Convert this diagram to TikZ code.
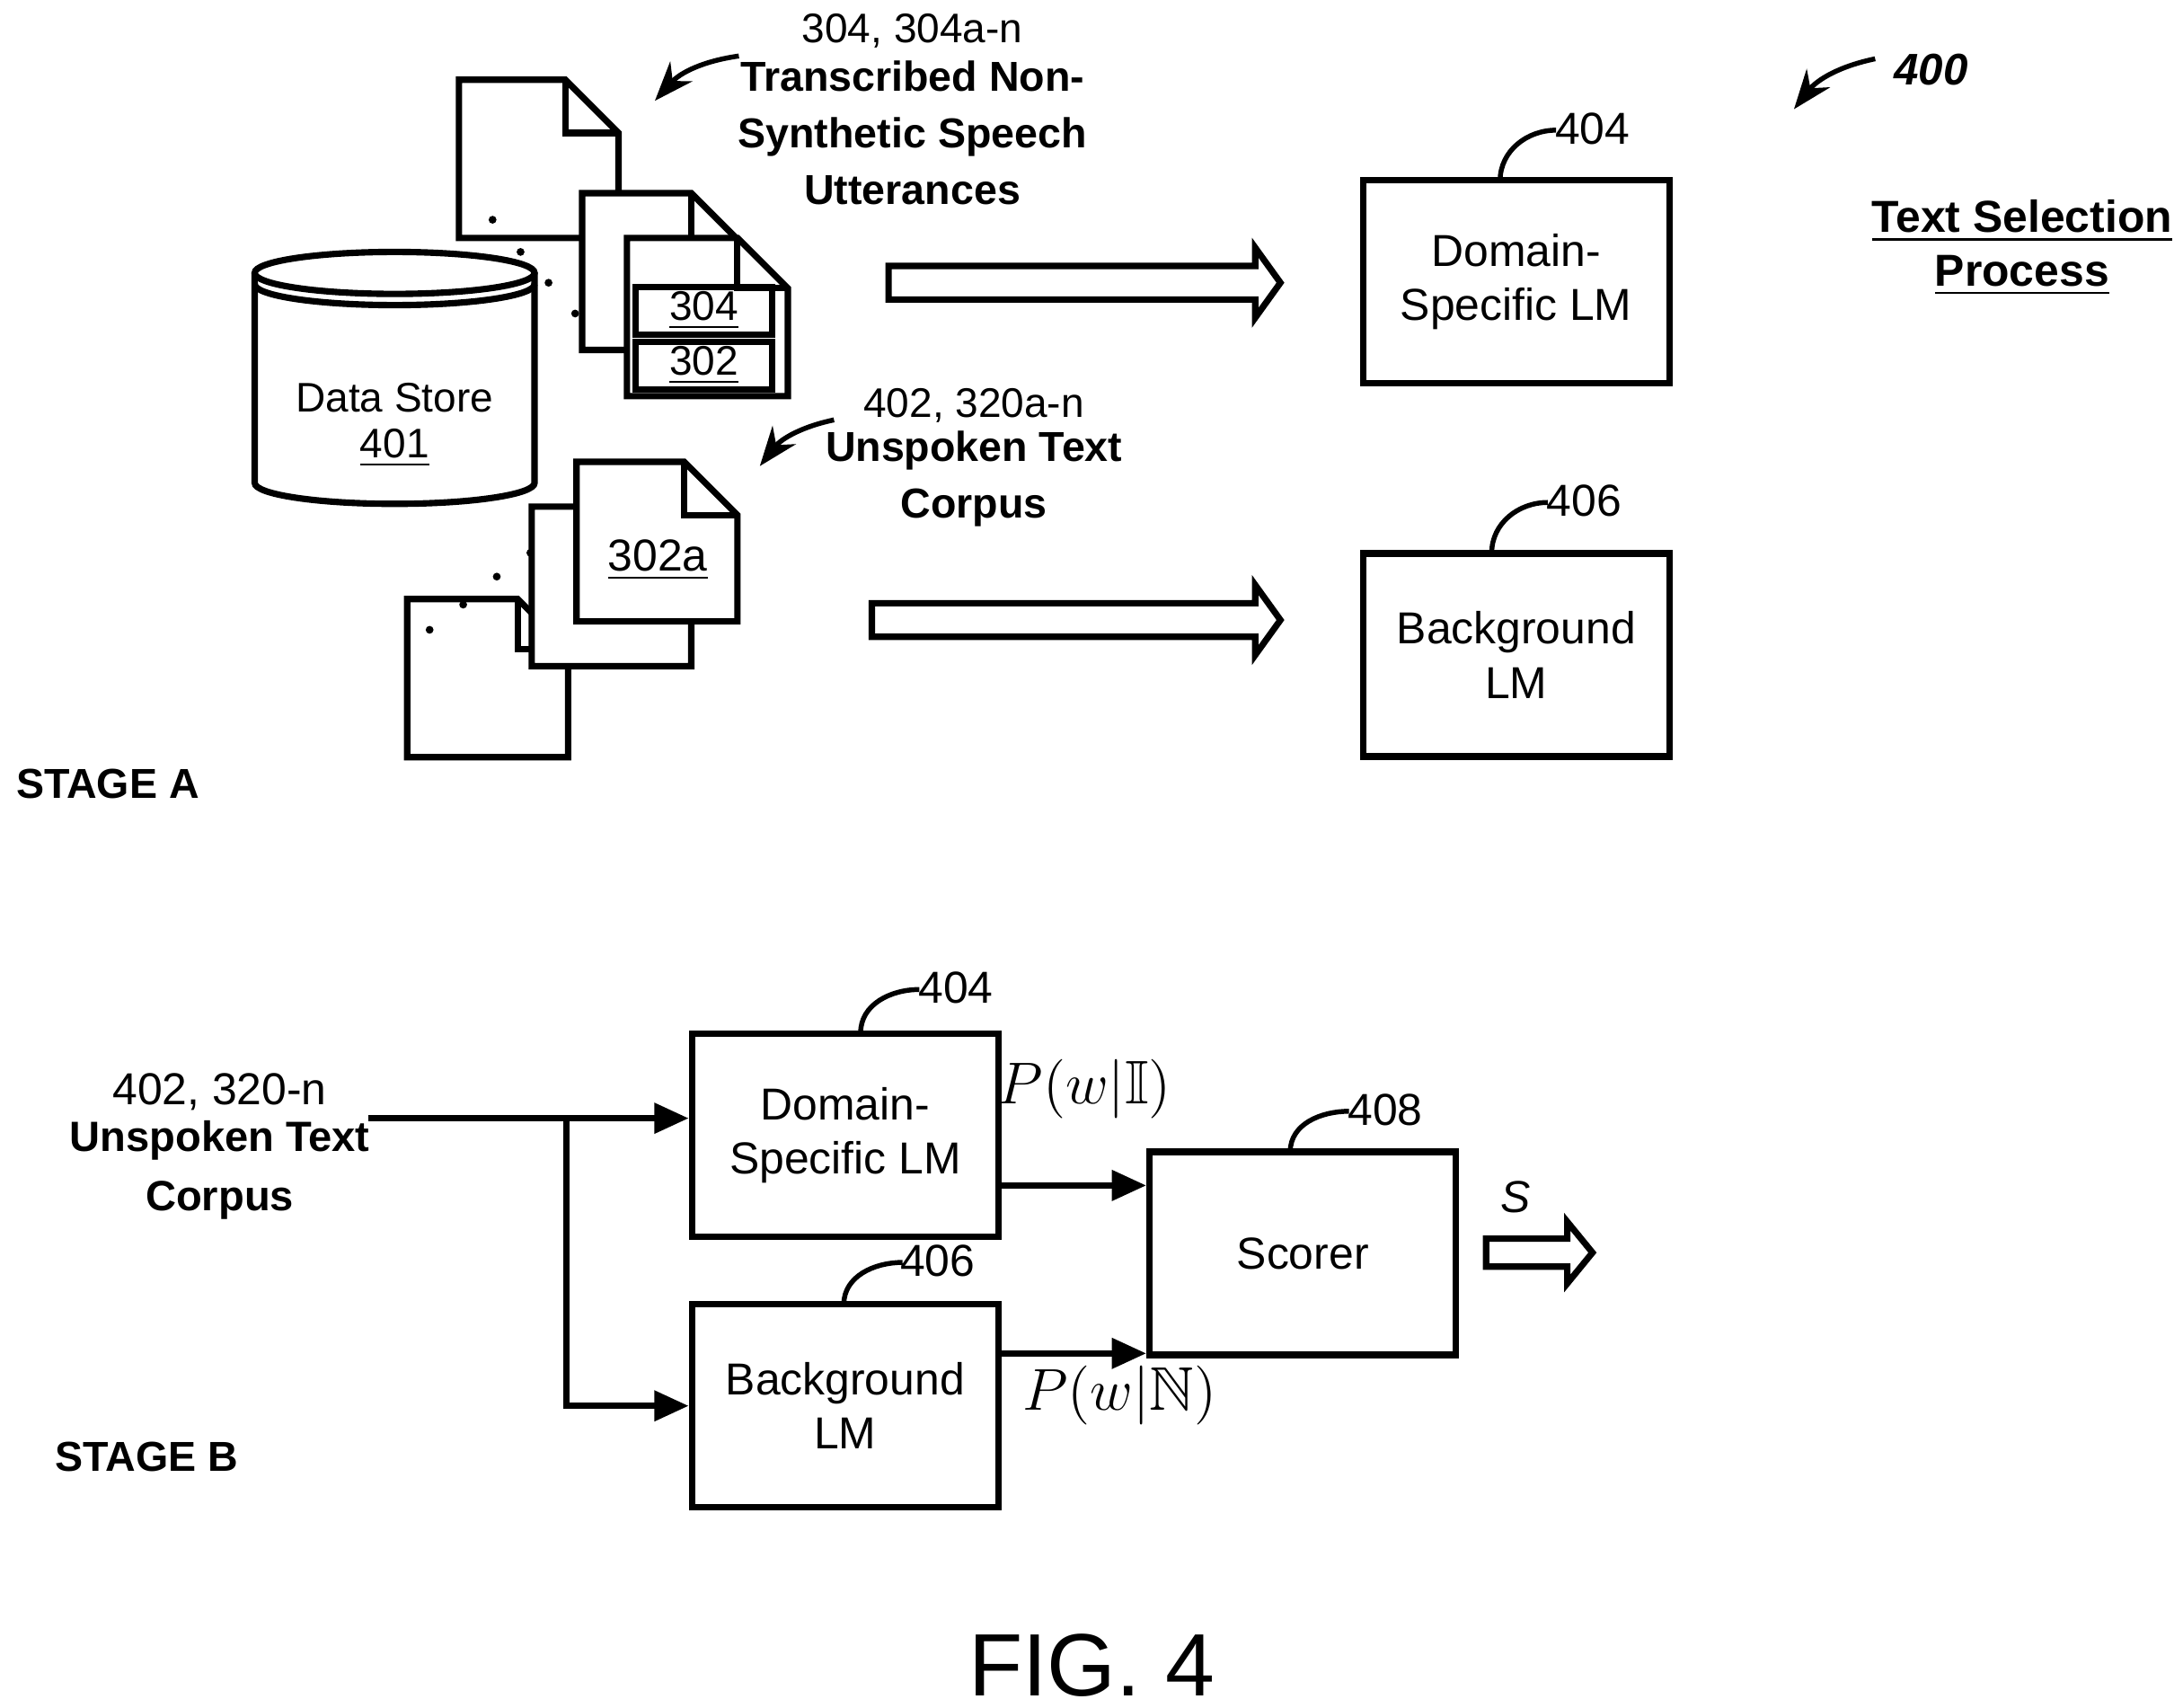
\documentclass[tikz,border=0pt]{standalone}
\usepackage{fontspec}
\usepackage{amssymb}
\setmainfont{Liberation Sans}
\usetikzlibrary{arrows.meta}
\newcommand{\mydoc}[5]{\draw[line width=1.3pt,fill=white] (#1,#2) -- ({#3-#5},#2) -- (#3,{#2+#5}) -- (#3,#4) -- (#1,#4) -- cycle;
 \draw[line width=1.3pt] ({#3-#5},#2) -- ({#3-#5},{#2+#5}) -- (#3,{#2+#5});}
\newcommand{\harrow}[6]{\draw[line width=1.3pt,fill=white] (#1,{#3-#4}) -- ({#2-#6},{#3-#4}) -- ({#2-#6},{#3-#5}) -- (#2,#3) -- ({#2-#6},{#3+#5}) -- ({#2-#6},{#3+#4}) -- (#1,{#3+#4}) -- cycle;}
\begin{document}
\begin{tikzpicture}[x=0.01cm,y=-0.01cm,font=\fontsize{8.4pt}{10pt}\selectfont,
 mid/.style={font=\fontsize{9.1pt}{11pt}\selectfont},
 box/.style={draw,line width=1.3pt,minimum width=2.19cm,minimum height=1.45cm,align=center,inner sep=0pt,mid},
 lbl/.style={align=center},
 bl/.style={font=\fontsize{8.5pt}{10pt}\selectfont\bfseries,align=center},
 arr/.style={line width=1.3pt,-{Triangle[length=7pt,width=6pt]}},
 lead/.style={line width=1pt}]
\useasboundingbox (0,0) rectangle (1560,1220);
% data store cylinder
\draw[line width=1.3pt,fill=white] (182,195) -- (182,345) arc[start angle=180,end angle=0,x radius=100,y radius=15] -- (382,195);
\draw[line width=1.3pt,fill=white] (282,195) ellipse[x radius=100,y radius=15];
\draw[line width=1.3pt] (182,203) arc[start angle=180,end angle=0,x radius=100,y radius=15];
\node[lbl] (ds) at (282,284) {Data Store};
\node[lbl] (ds2) at (282,320) {\underline{401}};
% top docs
\mydoc{328}{57}{442}{170}{38}
\mydoc{416}{138}{530}{250}{36}
\mydoc{448}{170}{563}{283}{36}
\node[draw,line width=1.3pt,minimum width=0.98cm,minimum height=0.34cm,inner sep=0pt] (b304) at (503,222) {\underline{304}};
\node[draw,line width=1.3pt,minimum width=0.98cm,minimum height=0.34cm,inner sep=0pt] (b302) at (503,261) {\underline{302}};
% bottom docs
\mydoc{291}{428}{406}{541}{36}
\mydoc{380}{362}{494}{476}{36}
\mydoc{412}{330}{527}{444}{38}
\foreach \p in {(352,157),(372,180),(392,202),(411,224),(307,450),(331,432),(355,412),(379,395)} \fill \p circle (2.8);
\node[mid] (d302a) at (470,400) {\underline{302a}};
% labels
\node[lbl] (l304) at (652,22) {304, 304a-n};
\node[bl] (t304) at (652,95) {Transcribed Non-\\[1.5pt]Synthetic Speech\\[1.5pt]Utterances};
\draw[lead,-{Stealth[length=8pt]}] (528,40) to[bend right=20] (468,72);
\node[lbl] (l402) at (696,290) {402, 320a-n};
\node[bl] (t402) at (696,342) {Unspoken Text\\[1.5pt]Corpus};
\draw[lead,-{Stealth[length=8pt]}] (596,300) to[bend right=20] (543,333);
% hollow arrows
\harrow{635}{915}{202}{12}{25}{18}
\harrow{623}{915}{443}{12}{25}{18}
% LM boxes A
\node[box] (dA) at (1083.5,201.5) {Domain-\\Specific LM};
\node[box] (bA) at (1083.5,468) {Background\\LM};
\node[mid] (n404) at (1138,92) {404};
\draw[lead] (1072,129) to[out=90,in=180] (1112,93);
\node[mid] (n406) at (1132,358) {406};
\draw[lead] (1066,395) to[out=90,in=180] (1106,359);
\node[font=\fontsize{9pt}{11pt}\selectfont\bfseries\itshape] (n400) at (1380,50) {400};
\draw[lead,-{Stealth[length=8pt]}] (1340,42) to[bend right=20] (1282,78);
\node[font=\fontsize{9.1pt}{11pt}\selectfont\bfseries] (tsp) at (1445,158) {\underline{Text Selection}};
\node[font=\fontsize{9.1pt}{11pt}\selectfont\bfseries] (tsp2) at (1445,197) {\underline{Process}};
\node[bl] (sa) at (77,560) {STAGE A};
% stage B
\node[box] (dB) at (604,811) {Domain-\\Specific LM};
\node[box] (bB) at (604,1004.5) {Background\\LM};
\node[box] (sc) at (931,895.5) {Scorer};
\node[mid] (m404) at (683,706) {404};
\draw[lead] (615,738) to[out=90,in=180] (657,707);
\node[mid] (m406) at (670,901) {406};
\draw[lead] (603,932) to[out=90,in=180] (645,902);
\node[mid] (m408) at (990,793) {408};
\draw[lead] (922,823) to[out=90,in=180] (964,794);
\node[mid] (in1) at (157,780) {402, 320-n};
\node[font=\fontsize{8.6pt}{10.5pt}\selectfont\bfseries,align=center] (in2) at (157,836) {Unspoken Text\\[1.5pt]Corpus};
\coordinate (st) at (263,799);
\coordinate (br) at (405,799);
\draw[arr] (st) -- (dB.west |- st);
\draw[arr] (br) |- (bB.west);
\draw[arr] (dB.east |- 0,847) -- (sc.west |- 0,847);
\draw[arr] (bB.east |- 0,967) -- (sc.west |- 0,967);
\node[font=\fontsize{12.5pt}{15pt}\selectfont] (p1) at (775,778) {$P(w|\mathbb{I})$};
\node[font=\fontsize{12.5pt}{15pt}\selectfont] (p2) at (800,997) {$P(w|\mathbb{N})$};
\node[mid,font=\fontsize{9.1pt}{11pt}\selectfont\itshape] (sS) at (1083,855) {S};
\harrow{1062}{1138}{895}{10}{22}{18}
\node[bl] (sb) at (105,1041) {STAGE B};
\node[font=\fontsize{18pt}{22pt}\selectfont] (fig) at (780,1190) {FIG. 4};
\end{tikzpicture}
\end{document}
